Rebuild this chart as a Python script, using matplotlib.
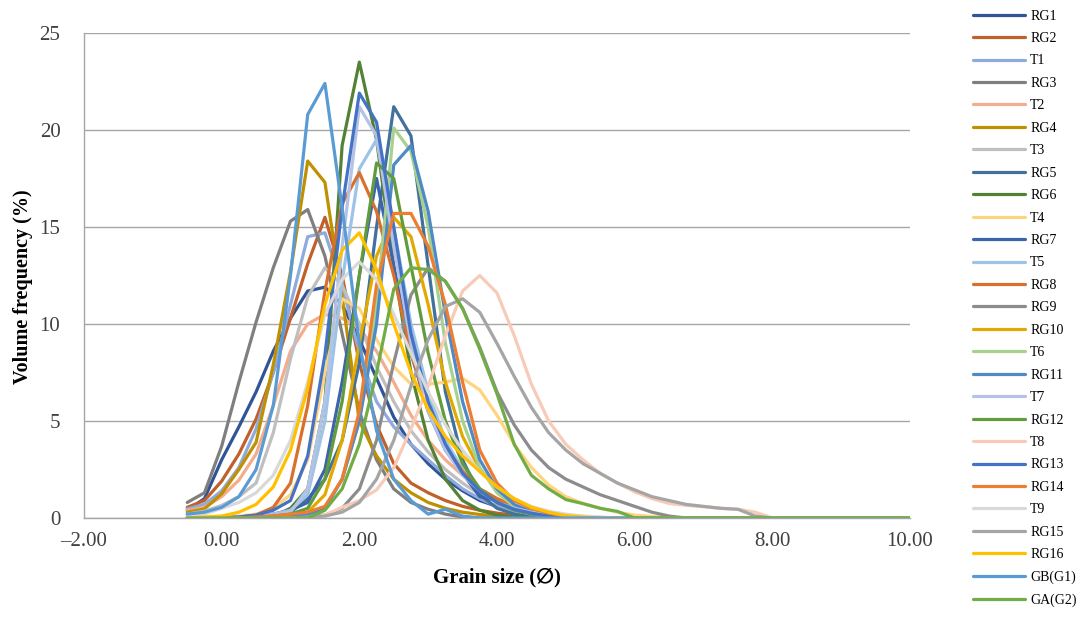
import numpy as np
import matplotlib
matplotlib.use('Agg')
from matplotlib import pyplot as plt

# grain size classes (phi), 0.25 steps from -0.5 to 10
grain_size = np.arange(-0.5, 10.01, 0.25)

samples = ['RG1', 'RG2', 'T1', 'RG3', 'T2', 'RG4', 'T3', 'RG5', 'RG6', 'T4',
           'RG7', 'T5', 'RG8', 'RG9', 'RG10', 'T6', 'RG11', 'T7', 'RG12', 'T8',
           'RG13', 'RG14', 'T9', 'RG15', 'RG16', 'GB(G1)', 'GA(G2)']

colors = ['#2F5597', '#C0602A', '#8FAADC', '#7F7F7F', '#F4AC8C', '#BF9000',
          '#BFBFBF', '#41719C', '#548235', '#FFD47F', '#3B64AD', '#9DC3E6',
          '#D8712D', '#8C8C8C', '#E2AA00', '#A9D18E', '#4E8AC8', '#B4C2E6',
          '#629B3C', '#F8CBB8', '#4472C4', '#ED7D31', '#D9D9D9', '#A5A5A5',
          '#FFC000', '#5B9BD5', '#70AD47']

rg1 = [0.4, 1.0, 3.0, 4.7, 6.5, 8.6, 10.3, 11.7, 11.9, 11.0, 9.2, 7.2, 5.2, 3.8, 2.8, 2.0, 1.4, 0.9, 0.6, 0.35, 0.2, 0.1, 0.05,
       0, 0, 0, 0, 0, 0, 0, 0, 0, 0, 0, 0, 0, 0, 0, 0, 0, 0, 0, 0]
rg2 = [0.55, 0.9, 1.9, 3.3, 5.1, 7.5, 10.3, 13.1, 15.5, 12.5, 8.0, 4.8, 2.8, 1.8, 1.3, 0.9, 0.6, 0.4, 0.25, 0.15, 0.08, 0.03,
       0, 0, 0, 0, 0, 0, 0, 0, 0, 0, 0, 0, 0, 0, 0, 0, 0, 0, 0, 0, 0]
t1 = [0.47, 0.7, 1.4, 2.6, 4.6, 7.5, 11.0, 14.5, 14.7, 12.0, 8.5, 6.0, 4.7, 3.8, 3.0, 2.2, 1.5, 1.0, 0.6, 0.35, 0.2, 0.1, 0.05,
      0, 0, 0, 0, 0, 0, 0, 0, 0, 0, 0, 0, 0, 0, 0, 0, 0, 0, 0, 0]
rg3 = [0.8, 1.3, 3.7, 7.0, 10.1, 12.9, 15.3, 15.9, 13.5, 9.5, 5.5, 3.0, 1.5, 0.8, 0.45, 0.2, 0.05,
       0, 0, 0, 0, 0, 0, 0, 0, 0, 0, 0, 0, 0, 0, 0, 0, 0, 0, 0, 0, 0, 0, 0, 0, 0, 0]
t2 = [0.38, 0.55, 1.1, 1.95, 3.3, 5.8, 8.6, 10.0, 10.5, 10.3, 9.8, 8.6, 7.0, 5.3, 4.0, 3.0, 2.2, 1.5, 1.0, 0.65, 0.4, 0.25, 0.15, 0.08, 0.03,
      0, 0, 0, 0, 0, 0, 0, 0, 0, 0, 0, 0, 0, 0, 0, 0, 0, 0]
rg4 = [0.3, 0.47, 1.25, 2.5, 3.9, 7.9, 12.7, 18.4, 17.3, 11.4, 5.0, 3.2, 2.0, 1.3, 0.8, 0.5, 0.3, 0.18, 0.1, 0.05,
       0, 0, 0, 0, 0, 0, 0, 0, 0, 0, 0, 0, 0, 0, 0, 0, 0, 0, 0, 0, 0, 0, 0]
t3 = [0.2, 0.35, 0.65, 1.1, 1.8, 4.4, 8.2, 11.4, 12.9, 12.0, 10.0, 7.8, 6.0, 4.5, 3.4, 2.5, 1.8, 1.2, 0.8, 0.5, 0.3, 0.15, 0.08, 0.03,
      0, 0, 0, 0, 0, 0, 0, 0, 0, 0, 0, 0, 0, 0, 0, 0, 0, 0, 0]
rg5 = [0, 0, 0, 0, 0.05, 0.1, 0.3, 1.0, 2.0, 4.0, 8.0, 15.0, 21.2, 19.7, 13.0, 6.5, 3.0, 1.2, 0.5, 0.2, 0.05,
       0, 0, 0, 0, 0, 0, 0, 0, 0, 0, 0, 0, 0, 0, 0, 0, 0, 0, 0, 0, 0, 0]
rg6 = [0, 0, 0, 0, 0.05, 0.1, 0.5, 1.5, 6.0, 19.2, 23.5, 19.5, 13.0, 7.5, 4.0, 2.0, 0.9, 0.4, 0.15, 0.05,
       0, 0, 0, 0, 0, 0, 0, 0, 0, 0, 0, 0, 0, 0, 0, 0, 0, 0, 0, 0, 0, 0, 0]
t4 = [0, 0, 0.05, 0.1, 0.2, 0.5, 1.2, 3.0, 7.5, 11.3, 10.8, 9.2, 7.8, 6.9, 6.9, 7.0, 7.2, 6.6, 5.3, 3.8, 2.6, 1.7, 1.1, 0.75, 0.5, 0.3, 0.15, 0.08, 0.03,
      0, 0, 0, 0, 0, 0, 0, 0, 0, 0, 0, 0, 0, 0]
rg7 = [0, 0, 0, 0.05, 0.1, 0.2, 0.4, 0.8, 2.5, 7.0, 12.5, 17.5, 13.0, 8.5, 5.5, 3.5, 2.3, 1.1, 0.9, 0.5, 0.25, 0.1, 0.05,
       0, 0, 0, 0, 0, 0, 0, 0, 0, 0, 0, 0, 0, 0, 0, 0, 0, 0, 0, 0]
t5 = [0, 0, 0, 0.05, 0.1, 0.2, 0.4, 1.2, 5.0, 12.2, 18.0, 19.5, 15.0, 10.0, 6.5, 4.0, 2.5, 1.5, 0.8, 0.4, 0.2, 0.08,
      0, 0, 0, 0, 0, 0, 0, 0, 0, 0, 0, 0, 0, 0, 0, 0, 0, 0, 0, 0, 0]
rg8 = [0, 0, 0, 0.05, 0.15, 0.55, 1.8, 5.8, 11.7, 16.2, 17.8, 15.8, 12.5, 8.5, 5.7, 3.7, 2.4, 1.5, 1.0, 0.6, 0.35, 0.2, 0.1, 0.05,
       0, 0, 0, 0, 0, 0, 0, 0, 0, 0, 0, 0, 0, 0, 0, 0, 0, 0, 0]
rg9 = [0, 0, 0, 0, 0, 0, 0, 0.05, 0.15, 0.5, 1.5, 4.0, 8.0, 11.5, 12.9, 12.2, 10.8, 8.8, 6.5, 4.8, 3.5, 2.6, 2.0, 1.6, 1.2, 0.9, 0.6, 0.3, 0.1,
       0, 0, 0, 0, 0, 0, 0, 0, 0, 0, 0, 0, 0, 0]
rg10 = [0, 0, 0, 0, 0.05, 0.1, 0.15, 0.3, 1.2, 4.0, 9.0, 13.5, 15.5, 14.5, 11.0, 7.0, 4.2, 2.5, 1.5, 0.9, 0.5, 0.25, 0.1,
        0, 0, 0, 0, 0, 0, 0, 0, 0, 0, 0, 0, 0, 0, 0, 0, 0, 0, 0, 0]
t6 = [0, 0, 0, 0, 0, 0.05, 0.1, 0.2, 0.5, 2.0, 5.0, 11.0, 20.1, 18.9, 15.0, 9.0, 5.0, 2.6, 1.3, 0.6, 0.25, 0.1,
      0, 0, 0, 0, 0, 0, 0, 0, 0, 0, 0, 0, 0, 0, 0, 0, 0, 0, 0, 0, 0]
rg11 = [0, 0, 0, 0, 0, 0.05, 0.1, 0.2, 0.5, 2.0, 5.0, 10.0, 18.2, 19.2, 15.8, 10.5, 6.0, 3.0, 1.5, 0.7, 0.3, 0.1,
        0, 0, 0, 0, 0, 0, 0, 0, 0, 0, 0, 0, 0, 0, 0, 0, 0, 0, 0, 0, 0]
t7 = [0, 0, 0, 0.05, 0.1, 0.15, 0.3, 1.5, 6.0, 14.0, 21.2, 19.7, 14.0, 9.0, 5.5, 3.5, 2.2, 1.4, 0.8, 0.5, 0.3, 0.15, 0.05,
      0, 0, 0, 0, 0, 0, 0, 0, 0, 0, 0, 0, 0, 0, 0, 0, 0, 0, 0, 0]
rg12 = [0, 0, 0, 0, 0.05, 0.1, 0.2, 0.5, 2.0, 6.0, 12.5, 18.3, 17.5, 13.0, 8.5, 5.0, 2.8, 1.5, 0.8, 0.4, 0.2, 0.1,
        0, 0, 0, 0, 0, 0, 0, 0, 0, 0, 0, 0, 0, 0, 0, 0, 0, 0, 0, 0, 0]
t8 = [0, 0, 0, 0, 0, 0, 0, 0, 0.15, 0.55, 0.9, 1.45, 2.6, 4.6, 6.8, 9.4, 11.7, 12.5, 11.6, 9.4, 6.9, 5.0, 3.8, 3.0, 2.3, 1.8, 1.35, 1.0, 0.75, 0.65, 0.58, 0.5, 0.45, 0.3,
      0, 0, 0, 0, 0, 0, 0, 0, 0]
rg13 = [0, 0, 0, 0.05, 0.15, 0.4, 0.9, 3.2, 8.4, 16.0, 21.9, 20.4, 15.0, 9.5, 6.0, 3.8, 2.3, 1.4, 0.8, 0.45, 0.25, 0.1, 0.05,
        0, 0, 0, 0, 0, 0, 0, 0, 0, 0, 0, 0, 0, 0, 0, 0, 0, 0, 0, 0]
rg14 = [0, 0, 0, 0, 0.05, 0.1, 0.2, 0.3, 0.6, 2.0, 5.5, 12.0, 15.7, 15.7, 14.0, 11.0, 7.0, 3.5, 1.8, 0.9, 0.5, 0.25, 0.1,
        0, 0, 0, 0, 0, 0, 0, 0, 0, 0, 0, 0, 0, 0, 0, 0, 0, 0, 0, 0]
t9 = [0.1, 0.2, 0.5, 0.8, 1.3, 2.2, 4.0, 7.0, 10.5, 12.3, 13.2, 12.3, 10.5, 8.5, 6.5, 4.8, 3.5, 2.4, 1.6, 1.0, 0.6, 0.35, 0.2, 0.1, 0.05,
      0, 0, 0, 0, 0, 0, 0, 0, 0, 0, 0, 0, 0, 0, 0, 0, 0, 0]
rg15 = [0, 0, 0, 0, 0, 0, 0, 0.05, 0.1, 0.3, 0.8, 2.0, 4.0, 6.8, 9.2, 10.9, 11.3, 10.6, 9.0, 7.3, 5.7, 4.4, 3.5, 2.8, 2.3, 1.8, 1.45, 1.1, 0.9, 0.7, 0.6, 0.5, 0.45, 0.1,
        0, 0, 0, 0, 0, 0, 0, 0, 0]
rg16 = [0, 0.05, 0.1, 0.3, 0.7, 1.6, 3.5, 6.7, 11.0, 13.8, 14.7, 12.8, 10.0, 7.5, 5.6, 4.2, 3.2, 2.4, 1.6, 1.0, 0.55, 0.3, 0.12, 0.05,
        0, 0, 0, 0, 0, 0, 0, 0, 0, 0, 0, 0, 0, 0, 0, 0, 0, 0, 0]
gb = [0.2, 0.3, 0.55, 1.1, 2.5, 5.8, 12.5, 20.8, 22.4, 16.0, 9.0, 4.5, 2.0, 0.9, 0.2, 0.45, 0.1,
      0, 0, 0, 0, 0, 0, 0, 0, 0, 0, 0, 0, 0, 0, 0, 0, 0, 0, 0, 0, 0, 0, 0, 0, 0, 0]
ga = [0, 0, 0, 0, 0, 0, 0, 0, 0.4, 1.5, 3.8, 7.5, 11.8, 12.9, 12.8, 12.2, 10.8, 8.7, 6.4, 3.8, 2.2, 1.5, 0.95, 0.74, 0.5, 0.34,
      0, 0, 0, 0, 0, 0, 0, 0, 0, 0, 0, 0, 0, 0, 0, 0, 0]

series = [rg1, rg2, t1, rg3, t2, rg4, t3, rg5, rg6, t4, rg7, t5, rg8, rg9,
          rg10, t6, rg11, t7, rg12, t8, rg13, rg14, t9, rg15, rg16, gb, ga]

plt.rcParams['font.family'] = ['Liberation Serif', 'DejaVu Serif', 'DejaVu Sans']

fig = plt.figure(figsize=(10.83, 6.33), dpi=100)
ax = fig.add_axes([84 / 1083, 1 - 518 / 633, (910 - 84) / 1083, (518 - 33) / 633])

for name, vals, col in zip(samples, series, colors):
    ax.plot(grain_size, vals, color=col, lw=2.3, label=name,
            solid_joinstyle='round', solid_capstyle='round')

ax.set_xlim(-2, 10)
ax.set_ylim(0, 25)
ax.set_xticks(np.arange(-2, 10.1, 2))
ax.set_xticklabels([f'{v:.2f}'.replace('-', '\u2013') for v in np.arange(-2, 10.1, 2)])
ax.set_yticks(np.arange(0, 26, 5))
ax.tick_params(length=0, labelsize=15, colors='#404040')
ax.tick_params(axis='y', pad=17)
ax.tick_params(axis='x', pad=10)
ax.grid(axis='y', color='#A6A6A6', lw=1.0)
ax.set_axisbelow(True)
for s in ['top', 'right']:
    ax.spines[s].set_visible(False)
for s in ['left', 'bottom']:
    ax.spines[s].set_color('#A6A6A6')
    ax.spines[s].set_linewidth(1.0)

ax.set_ylabel('Volume frequency (%)', fontsize=14.5, fontweight='bold')
ax.yaxis.set_label_coords(-0.062, 0.476)
ax.set_xlabel('Grain size (\u2205)', fontsize=15, fontweight='bold', labelpad=12,
              family=['Liberation Serif', 'DejaVu Sans'])

fig.legend(loc='upper left', bbox_to_anchor=(967 / 1083, 1 - 4 / 633), frameon=False,
           fontsize=10, handlelength=3.8, labelspacing=0.68, handletextpad=0.35,
           borderaxespad=0)

fig.savefig('out.png', dpi=100)
